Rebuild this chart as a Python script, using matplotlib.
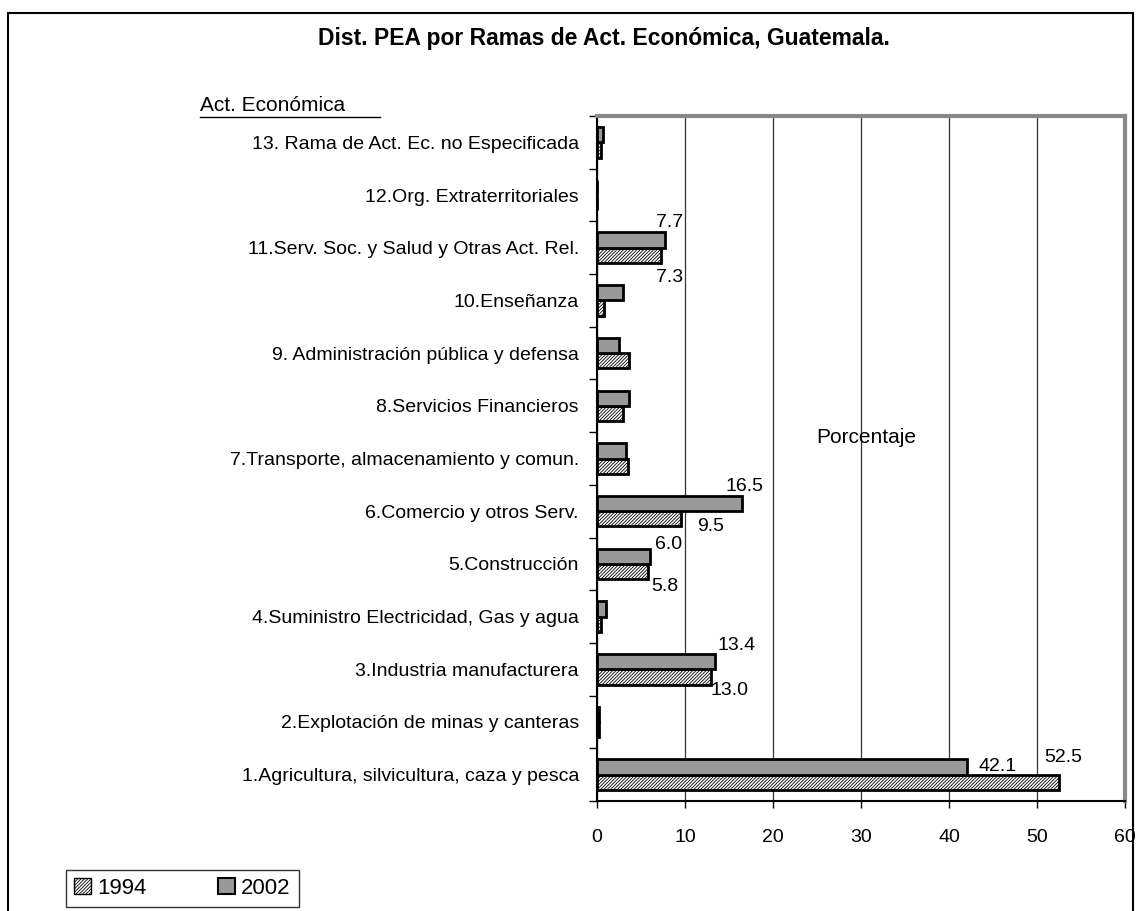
import matplotlib
matplotlib.use("Agg")
import matplotlib.pyplot as plt
from matplotlib.patches import Patch, Rectangle
from matplotlib.lines import Line2D
import numpy as np

plt.rcParams['font.family'] = ['Liberation Sans', 'DejaVu Sans']
plt.rcParams['hatch.linewidth'] = 0.6

# datos (de abajo hacia arriba)
ramas = ["1.Agricultura, silvicultura, caza y pesca",
         "2.Explotación de minas y canteras",
         "3.Industria manufacturera",
         "4.Suministro Electricidad, Gas y agua",
         "5.Construcción",
         "6.Comercio y otros Serv.",
         "7.Transporte, almacenamiento y comun.",
         "8.Servicios Financieros",
         "9. Administración pública y defensa",
         "10.Enseñanza",
         "11.Serv. Soc. y Salud y Otras Act. Rel.",
         "12.Org. Extraterritoriales",
         "13. Rama de Act. Ec. no Especificada"]
pea_1994 = [52.5, 0.2, 13.0, 0.4, 5.8, 9.5, 3.5, 3.0, 3.6, 0.8, 7.3, 0.0, 0.4]
pea_2002 = [42.1, 0.2, 13.4, 1.0, 6.0, 16.5, 3.3, 3.6, 2.5, 2.9, 7.7, 0.0, 0.7]
x_ticks = [0, 10, 20, 30, 40, 50, 60]

# etiquetas de valor: indice -> desplazamiento (px) para 2002 y 1994
etiquetas = {10: ((5, 18), (8, -22)),
             5: ((2, 17), (30, -8)),
             4: ((19, 12), (17, -15)),
             2: ((22, 16), (18, -14)),
             0: ((30, 1), (4, 25))}

fig = plt.figure(figsize=(11.38, 9.11), dpi=100)
ax = fig.add_axes([0.5246, 0.1207, 0.4640, 0.7520])

y = np.arange(len(ramas))
h = 0.29
ax.barh(y - h / 2, pea_1994, height=h, color='white', edgecolor='black',
        hatch='//////////', linewidth=2, label='1994')
ax.barh(y + h / 2, pea_2002, height=h, color='#999999', edgecolor='black',
        linewidth=2, label='2002')

for i, (o02, o94) in etiquetas.items():
    ax.annotate(f"{pea_2002[i]:.1f}", (pea_2002[i], y[i] + h / 2), xytext=o02,
                textcoords='offset pixels', ha='center', va='center', fontsize=14)
    ax.annotate(f"{pea_1994[i]:.1f}", (pea_1994[i], y[i] - h / 2), xytext=o94,
                textcoords='offset pixels', ha='center', va='center', fontsize=14)

ax.set_xlim(0, 60)
ax.set_ylim(-0.5, len(ramas) - 0.5)
ax.set_xticks(x_ticks)
ax.set_xticklabels([str(v) for v in x_ticks], fontsize=14)
ax.set_yticks(np.arange(len(ramas) + 1) - 0.5)
ax.set_yticklabels([])
ax.set_yticks(y, minor=True)
ax.set_yticklabels(ramas, minor=True, fontsize=14)
ax.tick_params(axis='y', which='minor', length=0, pad=13)
ax.tick_params(axis='y', which='major', length=6, width=1, direction='out')
ax.tick_params(axis='x', length=5, width=1, direction='out', pad=15)
ax.xaxis.grid(True, color='#333333', linewidth=0.9)
ax.set_axisbelow(True)
for s in ['left', 'bottom']:
    ax.spines[s].set_color('black')
    ax.spines[s].set_linewidth(1.5)
for s in ['top', 'right']:
    ax.spines[s].set_color('#888888')
    ax.spines[s].set_linewidth(3)

ax.text(0.509, 0.531, "Porcentaje", transform=ax.transAxes, ha='center',
        va='center', fontsize=15)

fig.text(0.531, 0.958, "Dist. PEA por Ramas de Act. Económica, Guatemala.",
         ha='center', va='center', fontsize=16.5, fontweight='bold')
fig.text(0.1757, 0.8846, "Act. Económica", ha='left', va='center', fontsize=15)
fig.add_artist(Line2D([0.1757, 0.334], [0.8716, 0.8716], color='black',
                      linewidth=1, transform=fig.transFigure))

# marco exterior
fig.add_artist(Rectangle((8 / 1138, -0.02), (1133 - 8) / 1138, 1.02 - 13 / 911,
                         transform=fig.transFigure, fill=False,
                         edgecolor='black', linewidth=1.5))

handles = [Patch(facecolor='white', edgecolor='black', hatch='//////////', label='1994'),
           Patch(facecolor='#999999', edgecolor='black', linewidth=1.5, label='2002')]
leg = fig.legend(handles=handles, loc='lower left', bbox_to_anchor=(62 / 1138, 0.0),
                 ncol=2, fontsize=16, frameon=True, fancybox=False,
                 handlelength=0.75, handleheight=0.75, handletextpad=0.3,
                 columnspacing=3.2, borderpad=0.35, borderaxespad=0.2)
leg.get_frame().set_edgecolor('black')
leg.get_frame().set_linewidth(1)

fig.savefig("out.png", dpi=100)
